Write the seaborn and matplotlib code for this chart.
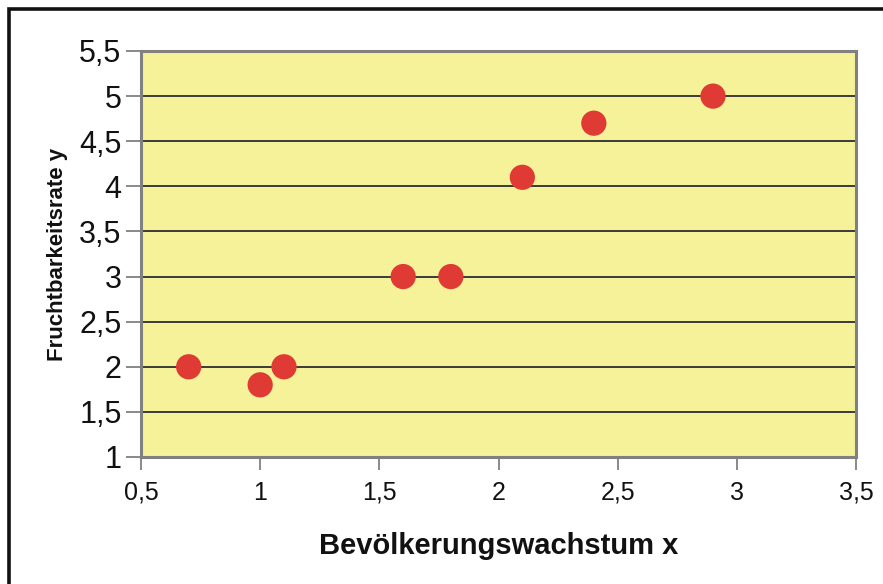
import matplotlib
matplotlib.use("Agg")
import matplotlib.pyplot as plt
import matplotlib.patches as mpatches
from matplotlib.ticker import FuncFormatter
import seaborn as sns
import pandas as pd

# Bevölkerungswachstum (x) und Fruchtbarkeitsrate (y)
wachstum = [0.7, 1.0, 1.1, 1.6, 1.8, 2.1, 2.4, 2.9]
fruchtbarkeit = [2.0, 1.8, 2.0, 3.0, 3.0, 4.1, 4.7, 5.0]
x_ticks = [0.5, 1, 1.5, 2, 2.5, 3, 3.5]
y_ticks = [1, 1.5, 2, 2.5, 3, 3.5, 4, 4.5, 5, 5.5]

df = pd.DataFrame({"x": wachstum, "y": fruchtbarkeit})

sns.set_theme(style="white")
plt.rcParams["font.family"] = ["Liberation Sans", "DejaVu Sans"]

fig = plt.figure(figsize=(8.83, 5.84), dpi=100)
fig.patch.set_facecolor("white")
ax = fig.add_axes([141 / 883, 127 / 584, 715 / 883, 406 / 584])
ax.set_facecolor("#F5F29A")

# outer chart frame
frame = mpatches.Rectangle((9 / 883, -0.2), 1.2, 1.2 - 9 / 584,
                           transform=fig.transFigure, fill=False,
                           edgecolor="#111111", linewidth=2.6, zorder=0)
fig.patches.append(frame)

ax.set_xlim(0.5, 3.5)
ax.set_ylim(1, 5.5)
ax.set_xticks(x_ticks)
ax.set_yticks(y_ticks)
for yv in y_ticks[1:-1]:
    ax.axhline(yv, color="#3a3a3a", linewidth=1.4, zorder=1)

sns.scatterplot(data=df, x="x", y="y", ax=ax, s=330, color="#E03A35",
                edgecolor="none", linewidth=0, zorder=3, legend=False)

fmt = FuncFormatter(lambda v, p: (f"{v:g}").replace(".", ","))
ax.xaxis.set_major_formatter(fmt)
ax.yaxis.set_major_formatter(fmt)

for side in ["left", "right", "top", "bottom"]:
    ax.spines[side].set_color("#808080")
    ax.spines[side].set_linewidth(2.2)

ax.tick_params(axis="y", which="major", direction="out", length=11, width=1.3,
               color="#808080", labelsize=22, labelcolor="#111111", pad=3, left=True)
ax.tick_params(axis="x", which="major", direction="out", length=9, width=1.3,
               color="#808080", labelsize=18, labelcolor="#111111", pad=8, bottom=True)

ax.set_xlabel("Bevölkerungswachstum x", fontsize=21, fontweight="bold",
              color="#111111", labelpad=20)
ax.set_ylabel("Fruchtbarkeitsrate y", fontsize=16, fontweight="bold",
              color="#111111", labelpad=8)

fig.savefig("out.png", dpi=100)
